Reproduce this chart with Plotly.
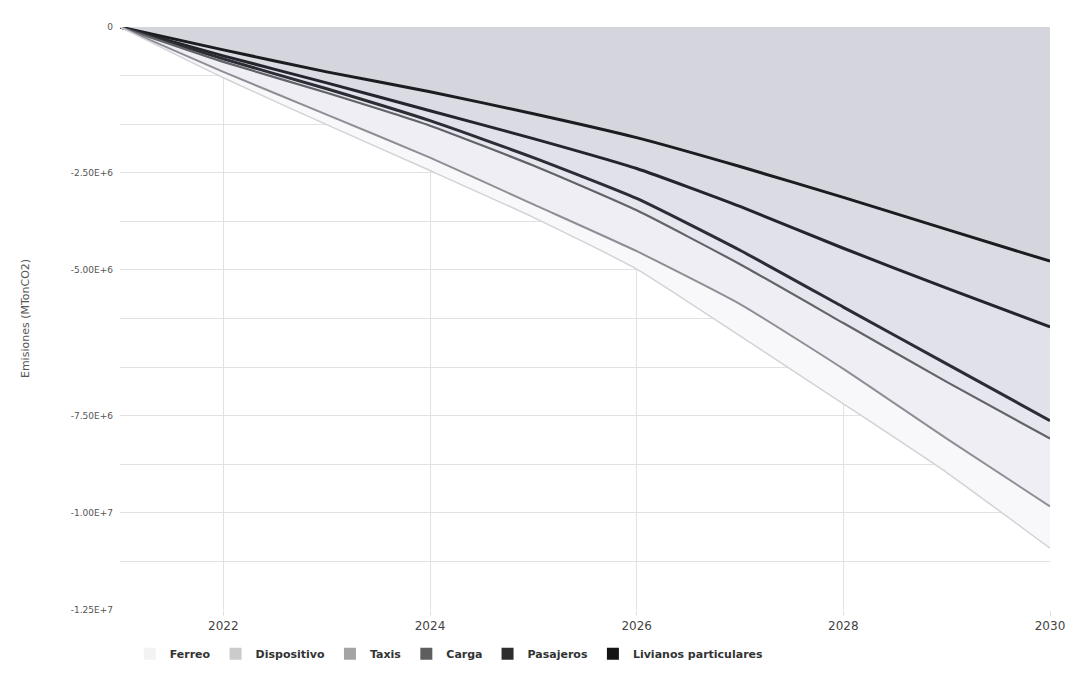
import plotly.graph_objects as go

# ---- data (tonnes CO2, negative = reductions) ----
years = [2021, 2022, 2023, 2024, 2025, 2026, 2027, 2028, 2029, 2030]

livianos    = [0, -491000, -962000, -1389000, -1859000, -2372000, -2992000, -3654000, -4338000, -5021000]
pasajeros   = [0, -128000, -235000, -406000, -534000, -662000, -855000, -1090000, -1261000, -1410000]
carga       = [0, -64000, -128000, -214000, -406000, -641000, -940000, -1261000, -1624000, -2009000]
taxis       = [0, -64000, -85000, -107000, -171000, -256000, -299000, -342000, -385000, -385000]
dispositivo = [0, -214000, -470000, -684000, -833000, -876000, -855000, -983000, -1218000, -1453000]
ferreo      = [0, -128000, -214000, -278000, -278000, -385000, -684000, -748000, -726000, -897000]

# y tick positions / labels as printed on the reference
y_grid_steps = 12
y_min = -12500000
y_tick_text = ["0", "", "", "-2.50E+6", "", "-5.00E+6", "", "", "-7.50E+6", "", "-1.00E+7", "", "-1.25E+7"]
x_tick_vals = [2022, 2024, 2026, 2028, 2030]

# ---- styles ----
series = [
    # name, values, line colour, line width, fill colour, legend swatch
    ("Livianos particulares", livianos,    "#1b1b22", 3.0, "#d5d5dd", "#151515"),
    ("Pasajeros",             pasajeros,   "#24242c", 3.0, "#dbdbe4", "#2e2e2e"),
    ("Carga",                 carga,       "#2c2c35", 3.0, "#e1e1ea", "#5e5e5e"),
    ("Taxis",                 taxis,       "#62626a", 2.2, "#e6e6ee", "#a4a4a4"),
    ("Dispositivo",           dispositivo, "#8e8e95", 2.0, "#eeeef4", "#cbcbcb"),
    ("Ferreo",                ferreo,      "#d2d2d7", 1.5, "#f8f8fb", "#f3f3f3"),
]

fig = go.Figure()
for name, vals, lc, lw, fc, sw in series:
    fig.add_trace(go.Scatter(
        x=years, y=vals, name=name, mode="lines", stackgroup="one",
        line=dict(color=lc, width=lw, shape="spline", smoothing=0.5),
        fillcolor=fc, showlegend=False, hoverinfo="x+y+name",
    ))

# legend entries (solid swatches), in the reference's order
for name, vals, lc, lw, fc, sw in reversed(series):
    fig.add_trace(go.Bar(x=[None], y=[None], name=name,
                         marker=dict(color=sw, line=dict(width=0)), showlegend=True))

y_tick_vals = [y_min * k / y_grid_steps for k in range(y_grid_steps + 1)]

fig.update_layout(
    width=1069, height=672,
    margin=dict(l=112, r=25, t=19, b=68),
    paper_bgcolor="white", plot_bgcolor="white",
    font=dict(family="DejaVu Sans", color="#444"),
    showlegend=True,
    legend=dict(orientation="h", x=0.354, xanchor="center", y=-0.075, yanchor="middle",
                traceorder="normal", font=dict(size=11, color="#333", weight="bold"),
                itemwidth=30),
    xaxis=dict(type="linear", range=[2021, 2030], tickmode="array", tickvals=x_tick_vals,
               showgrid=True, gridcolor="#e2e2e2", gridwidth=1, zeroline=False,
               showline=False, ticks="outside", ticklen=5, tickcolor="#e2e2e2",
               tickfont=dict(size=12, color="#444")),
    yaxis=dict(range=[y_min, 0], tickmode="array", tickvals=y_tick_vals, ticktext=y_tick_text,
               showgrid=True, gridcolor="#e2e2e2", gridwidth=1, zeroline=False,
               showline=False, ticks="", ticklabelstandoff=6,
               tickfont=dict(size=9, color="#555"),
               title=dict(text="Emisiones (MTonCO2)", font=dict(size=11, color="#555"), standoff=38)),
)

fig.write_html("out.html")
